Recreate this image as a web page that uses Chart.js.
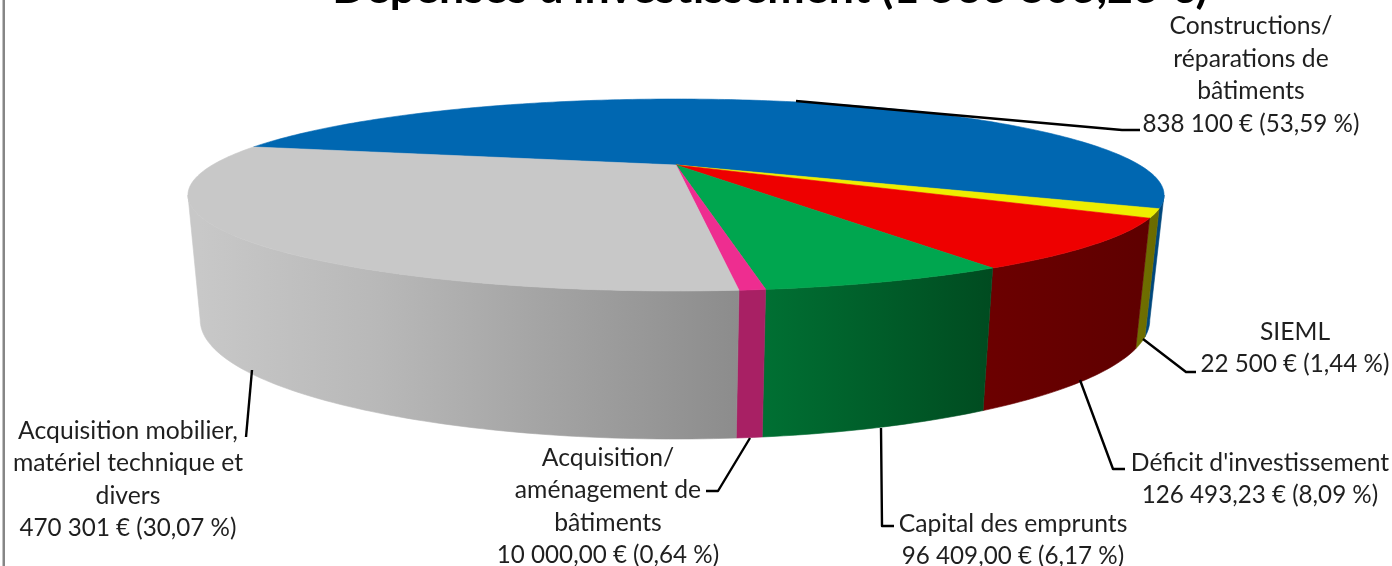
<!DOCTYPE html>
<html lang="fr">
<head>
<meta charset="utf-8">
<title>Dépenses d'investissement</title>
<script src="https://cdn.jsdelivr.net/npm/chart.js@4/dist/chart.umd.js"></script>
<style>
    html, body { margin: 0; padding: 0; background: #fff; overflow: hidden; }
    canvas { display: block; }
</style>
</head>
<body>
<canvas id="pie" width="1392" height="566"></canvas>
<script>
// Chart values, in slice order (clockwise from the left rear edge)
const categories = [
    ['Constructions/', 'réparations de', 'bâtiments'],
    ['SIEML'],
    ["Déficit d'investissement"],
    ['Capital des emprunts'],
    ['Acquisition/', 'aménagement de', 'bâtiments'],
    ['Acquisition mobilier,', 'matériel technique et', 'divers'],
];
const amounts = [838100, 22500, 126493.23, 96409, 10000, 470301];
const amountLabels = [
    '838 100 € (53,59 %)',
    '22 500 € (1,44 %)',
    '126 493,23 € (8,09 %)',
    '96 409,00 € (6,17 %)',
    '10 000,00 € (0,64 %)',
    '470 301 € (30,07 %)',
];
const chartTitle = "Dépenses d'investissement (1 563 803,23 €)";

// Styles
const topColors = ['#0067b1', '#eeee00', '#ee0000', '#00a64f', '#ee2d90', '#c8c8c8'];
const wallColors = [
    ['#00477c', '#00477c'],
    ['#707000', '#6a6a00'],
    ['#6c0000', '#5e0000'],
    ['#007033', '#004b20'],
    ['#a82064', '#a82064'],
    ['#c8c8c8', '#b8b8b8', '#a2a2a2', '#8c8c8c'],
];

// Label placement: centre x, middle of first line, leader line points
const labelCenters = [1251, 1295, 1260, 1013, 608, 128];
const labelTops = [26.5, 332, 463, 524, 458, 431];
const leaders = [
    [[796, 101], [1122, 130], [1140, 130]],
    [[1143, 339], [1186, 372], [1196, 372]],
    [[1080, 380], [1113, 469], [1125, 469]],
    [[881, 428], [882, 526], [894, 526]],
    [[750, 438], [718, 491], [706, 491]],
    [[252, 370], [246, 437]],
];
const LINE_HEIGHT = 32.4;
const CATEGORY_FONT = '24.7px Lato';
const AMOUNT_FONT = '24.2px Lato';

// Perspective of the disc: top rim and bottom rim share the same tilt
const TILT = 0.3125;
const TOP_RIM = { cx: 676, cy: 165, rx: 463.6, ry: 86.6 };
const BOTTOM_RIM = { cx: 675, cy: 282.8, rx: 451, ry: 107.4 };
const DEG = Math.PI / 180;
const WALL_FROM = Math.asin(TILT);
const WALL_TO = Math.PI - WALL_FROM;

function project(rim, angle) {
    const w = 1 - TILT * Math.sin(angle);
    return [rim.cx + rim.rx * Math.cos(angle) / w, rim.cy + rim.ry * Math.sin(angle) / w];
}

function traceRim(ctx, rim, from, to) {
    const steps = Math.max(2, Math.ceil(Math.abs(to - from) / DEG));
    for (let i = 0; i <= steps; i++) {
        const p = project(rim, from + (to - from) * i / steps);
        ctx.lineTo(p[0], p[1]);
    }
}

function drawWall(ctx, from, to, stops) {
    const left = project(BOTTOM_RIM, to)[0];
    const right = project(TOP_RIM, from)[0];
    const fill = ctx.createLinearGradient(left, 0, right, 0);
    stops.forEach((c, i) => fill.addColorStop(i / (stops.length - 1), c));
    ctx.fillStyle = fill;
    ctx.strokeStyle = fill;
    ctx.lineWidth = 0.6;
    ctx.beginPath();
    traceRim(ctx, TOP_RIM, from, to);
    traceRim(ctx, BOTTOM_RIM, to, from);
    ctx.closePath();
    ctx.fill();
    ctx.stroke();
}

// Arc that keeps the angles worked out by the pie controller but draws them in perspective
class Arc3D extends Chart.ArcElement {
    static id = 'arc3d';

    draw(ctx) {
        const { startAngle, endAngle } = this.getProps(['startAngle', 'endAngle']);
        ctx.save();

        // The side wall only shows on the near half, and can be reached one turn later
        [0, 2 * Math.PI].forEach((turn) => {
            const from = Math.max(startAngle, WALL_FROM + turn);
            const to = Math.min(endAngle, WALL_TO + turn);
            if (to > from) {
                drawWall(ctx, from, to, wallColors[this.$context.dataIndex]);
            }
        });

        ctx.fillStyle = this.options.backgroundColor;
        ctx.strokeStyle = this.options.backgroundColor;
        ctx.lineWidth = 0.6;
        ctx.beginPath();
        ctx.moveTo(TOP_RIM.cx, TOP_RIM.cy);
        traceRim(ctx, TOP_RIM, startAngle, endAngle);
        ctx.closePath();
        ctx.fill();
        ctx.stroke();
        ctx.restore();
    }
}

class Pie3DController extends Chart.PieController {
    static id = 'pie3d';
    static defaults = { dataElementType: 'arc3d' };
}

Chart.register(Arc3D, Pie3DController);

const calloutPlugin = {
    id: 'callouts',
    afterDraw(chart) {
        const ctx = chart.ctx;
        ctx.save();

        // Frame of the original chart, only its left side is in the crop
        ctx.fillStyle = '#868686';
        ctx.fillRect(2.5, 0, 2.5, chart.height);

        ctx.strokeStyle = '#000';
        ctx.lineWidth = 2.4;
        ctx.lineJoin = 'round';
        leaders.forEach((points) => {
            ctx.beginPath();
            points.forEach((p) => ctx.lineTo(p[0], p[1]));
            ctx.stroke();
        });

        ctx.fillStyle = '#1f1f1f';
        ctx.textAlign = 'center';
        ctx.textBaseline = 'middle';
        categories.forEach((lines, i) => {
            ctx.font = CATEGORY_FONT;
            lines.forEach((line, n) => {
                ctx.fillText(line, labelCenters[i], labelTops[i] + n * LINE_HEIGHT);
            });
            ctx.font = AMOUNT_FONT;
            ctx.fillText(amountLabels[i], labelCenters[i], labelTops[i] + lines.length * LINE_HEIGHT);
        });
        ctx.restore();
    },
};

new Chart(document.getElementById('pie'), {
    type: 'pie3d',
    data: {
        labels: categories.map((lines) => lines.join(' ')),
        datasets: [{
            data: amounts,
            backgroundColor: topColors,
            borderWidth: 0,
        }],
    },
    options: {
        responsive: false,
        animation: false,
        rotation: 282.9,
        layout: { padding: { left: 148 } },
        plugins: {
            legend: { display: false },
            tooltip: { enabled: false },
            title: {
                display: true,
                text: chartTitle,
                color: '#000',
                font: { family: 'Lato', size: 44.7, weight: 'bold' },
                padding: { top: -38.3, bottom: 0 },
            },
        },
    },
    plugins: [calloutPlugin],
});
</script>
</body>
</html>
